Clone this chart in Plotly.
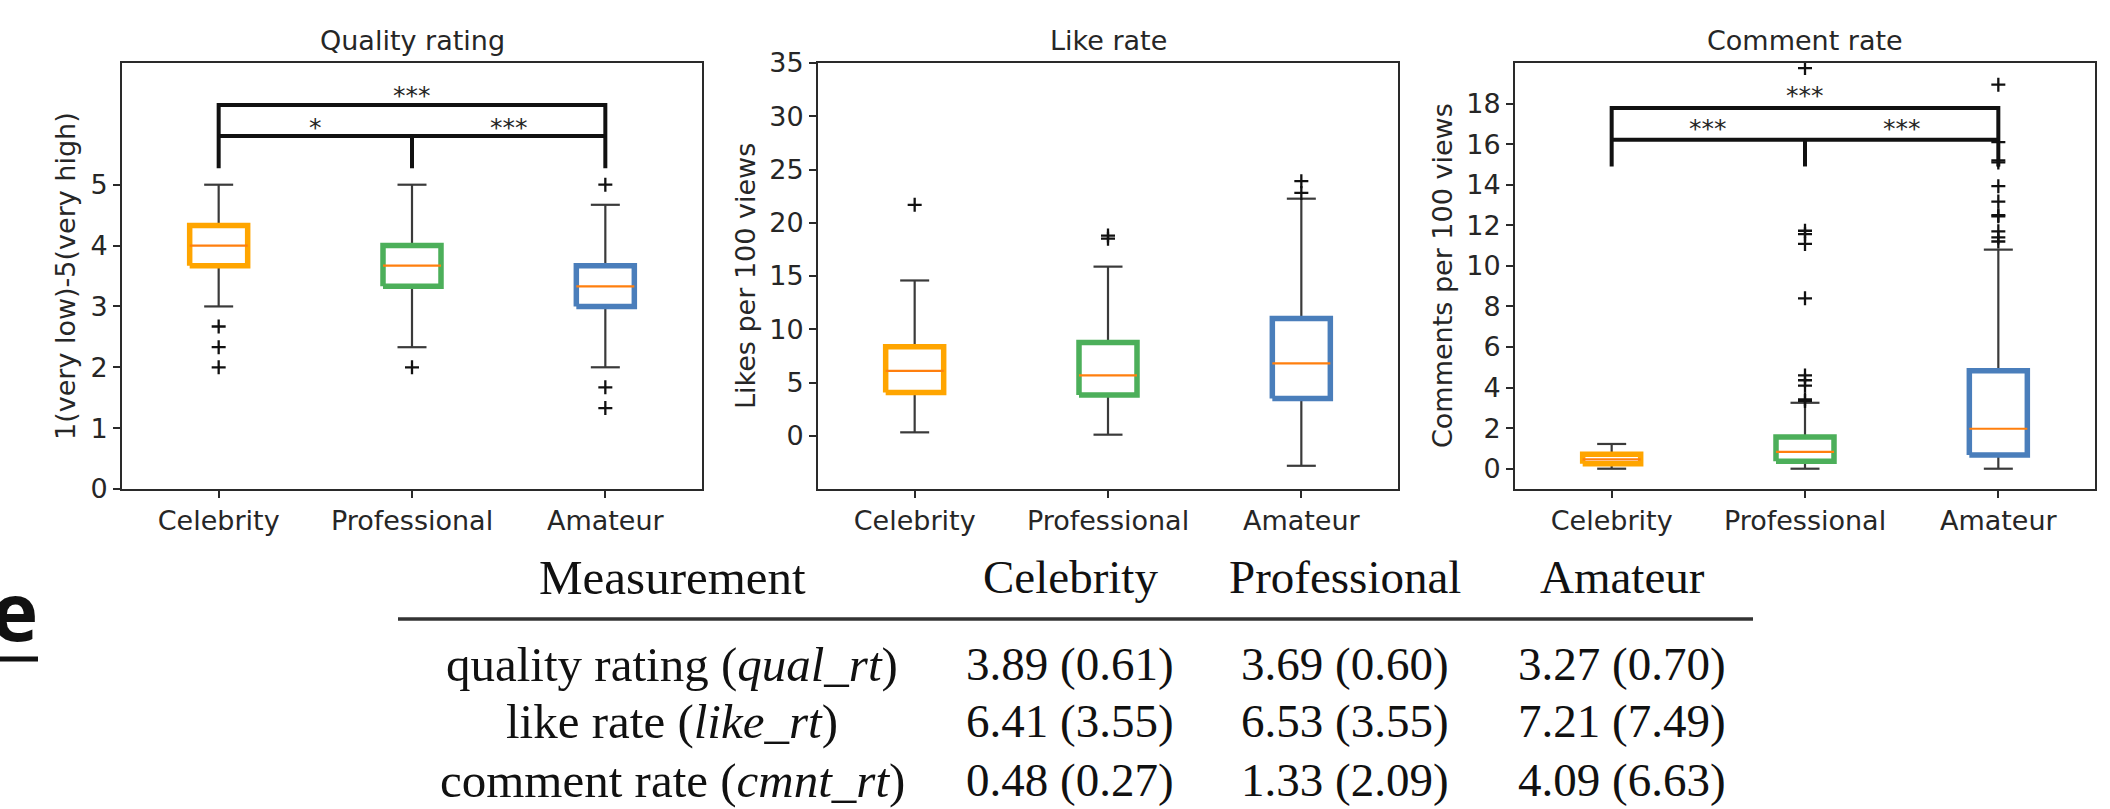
import plotly.graph_objects as go

# ---------------- data ----------------
categories = ["Celebrity", "Professional", "Amateur"]
positions = [1, 2, 3]
box_colors = ["#FFA500", "#4CAF5A", "#4A7EBB"]

panel_titles = ["Quality rating", "Like rate", "Comment rate"]
y_titles = ["1(very low)-5(very high)", "Likes per 100 views", "Comments per 100 views"]

# quality rating
qual_q1 = [3.67, 3.33, 3.00]
qual_med = [4.00, 3.67, 3.33]
qual_q3 = [4.33, 4.00, 3.67]
qual_lo = [3.00, 2.33, 2.00]
qual_hi = [5.00, 5.00, 4.67]
qual_fliers = [[2.67, 2.33, 2.00], [2.00], [5.00, 1.67, 1.33]]

# like rate
like_q1 = [4.05, 3.82, 3.50]
like_med = [6.09, 5.67, 6.80]
like_q3 = [8.36, 8.75, 11.02]
like_lo = [0.32, 0.10, -2.82]
like_hi = [14.58, 15.88, 22.26]
like_fliers = [[21.68], [18.50, 18.80], [22.80, 23.90]]

# comment rate
cmnt_q1 = [0.24, 0.37, 0.68]
cmnt_med = [0.46, 0.83, 1.97]
cmnt_q3 = [0.71, 1.56, 4.83]
cmnt_lo = [0.00, 0.00, 0.00]
cmnt_hi = [1.22, 3.25, 10.80]
cmnt_fliers = [[],
               [3.34, 3.42, 4.10, 4.36, 4.60, 8.40, 11.08, 11.56, 11.73, 19.75],
               [11.20, 11.40, 11.70, 12.44, 12.50, 13.17, 13.93, 15.10, 15.20, 16.10, 18.93]]

# y axes
y_ranges = [[0, 7], [-5, 35], [-1, 20]]
y_ticks = [[0, 1, 2, 3, 4, 5], [0, 5, 10, 15, 20, 25, 30, 35], [0, 2, 4, 6, 8, 10, 12, 14, 16, 18]]

# significance brackets (panel 1 and 3)
sig_qual = dict(leg=5.27, low=5.80, high=6.31, pair_y=6.03, top_y=6.54, labels=["*", "***", "***"])
sig_cmnt = dict(leg=14.90, low=16.22, high=17.78, pair_y=17.03, top_y=18.64, labels=["***", "***", "***"])

# table
table_header = ["Measurement", "Celebrity", "Professional", "Amateur"]
row_labels = ["quality rating (<i>qual_rt</i>)", "like rate (<i>like_rt</i>)", "comment rate (<i>cmnt_rt</i>)"]
row_means = [[3.89, 3.69, 3.27], [6.41, 6.53, 7.21], [0.48, 1.33, 4.09]]
row_sds = [[0.61, 0.60, 0.70], [3.55, 3.55, 7.49], [0.27, 2.09, 6.63]]

# ---------------- layout helpers ----------------
W, H = 2110, 809
def px(x):
    return x / W
def py(y):
    return 1 - y / H

panel_x = [(122, 702), (818, 1398), (1515, 2095)]
panel_top, panel_bot = 63, 489
ylab_x = [66, 746, 1443]

TXT = "#262626"
SANS = "DejaVu Sans"
SERIF = "Liberation Serif"
BOX_HALF = 0.15
CAP_HALF = 0.075

fig = go.Figure()

stats = [
    (qual_q1, qual_med, qual_q3, qual_lo, qual_hi, qual_fliers),
    (like_q1, like_med, like_q3, like_lo, like_hi, like_fliers),
    (cmnt_q1, cmnt_med, cmnt_q3, cmnt_lo, cmnt_hi, cmnt_fliers),
]

annotations = []
for k, (q1s, meds, q3s, los, his, fls) in enumerate(stats):
    xa = "x" if k == 0 else f"x{k+1}"
    ya = "y" if k == 0 else f"y{k+1}"
    for i, p in enumerate(positions):
        # whiskers + caps
        fig.add_trace(go.Scatter(
            x=[p, p, None, p, p, None, p - CAP_HALF, p + CAP_HALF, None, p - CAP_HALF, p + CAP_HALF],
            y=[q1s[i], los[i], None, q3s[i], his[i], None, los[i], los[i], None, his[i], his[i]],
            mode="lines", line=dict(color="#3a3a3a", width=2.2),
            xaxis=xa, yaxis=ya, hoverinfo="skip"))
        # box
        fig.add_trace(go.Scatter(
            x=[p - BOX_HALF, p + BOX_HALF, p + BOX_HALF, p - BOX_HALF, p - BOX_HALF],
            y=[q1s[i], q1s[i], q3s[i], q3s[i], q1s[i]],
            mode="lines", line=dict(color=box_colors[i], width=5.5),
            fill="toself", fillcolor="white",
            xaxis=xa, yaxis=ya, hoverinfo="skip"))
        # median
        fig.add_trace(go.Scatter(
            x=[p - BOX_HALF, p + BOX_HALF], y=[meds[i], meds[i]],
            mode="lines", line=dict(color="#FF7F0E", width=2.2),
            xaxis=xa, yaxis=ya, hoverinfo="skip"))
        # fliers
        if fls[i]:
            fig.add_trace(go.Scatter(
                x=[p] * len(fls[i]), y=fls[i], mode="markers",
                marker=dict(symbol="cross-thin", size=10, line=dict(color="#111111", width=2.3)),
                xaxis=xa, yaxis=ya, hoverinfo="skip"))

# significance brackets
for k, sig in [(0, sig_qual), (2, sig_cmnt)]:
    xa = "x" if k == 0 else f"x{k+1}"
    ya = "y" if k == 0 else f"y{k+1}"
    fig.add_trace(go.Scatter(
        x=[1, 1, 3, 3, None, 1, 3, None, 2, 2],
        y=[sig["leg"], sig["high"], sig["high"], sig["leg"], None, sig["low"], sig["low"], None, sig["leg"], sig["low"]],
        mode="lines", line=dict(color="#111111", width=4),
        xaxis=xa, yaxis=ya, hoverinfo="skip"))
    for xv, yv, lab in [(1.5, sig["pair_y"], sig["labels"][0]), (2.5, sig["pair_y"], sig["labels"][1]),
                        (2.0, sig["top_y"], sig["labels"][2])]:
        annotations.append(dict(x=xv, y=yv, xref=xa, yref=ya, text=lab, showarrow=False,
                                font=dict(family=SANS, size=25, color=TXT),
                                xanchor="center", yanchor="middle", yshift=-5))

# axes
for k in range(3):
    xn = "xaxis" if k == 0 else f"xaxis{k+1}"
    yn = "yaxis" if k == 0 else f"yaxis{k+1}"
    ya = "y" if k == 0 else f"y{k+1}"
    xa = "x" if k == 0 else f"x{k+1}"
    x0, x1 = panel_x[k]
    common = dict(showline=True, mirror=True, linecolor="#2a2a2a", linewidth=2, showgrid=False,
                  zeroline=False, ticks="outside", ticklen=7, tickwidth=2, tickcolor="#2a2a2a",
                  automargin=False, tickfont=dict(family=SANS, size=27, color=TXT))
    fig.update_layout({
        xn: dict(domain=[px(x0), px(x1)], range=[0.5, 3.5], tickvals=positions, ticktext=categories,
                 anchor=ya, **common),
        yn: dict(domain=[py(panel_bot), py(panel_top)], range=y_ranges[k], tickvals=y_ticks[k],
                 anchor=xa, **common),
    })
    annotations.append(dict(x=px((x0 + x1) / 2), y=py(41), xref="paper", yref="paper",
                            text=panel_titles[k], showarrow=False,
                            font=dict(family=SANS, size=27, color=TXT), xanchor="center", yanchor="middle"))
    annotations.append(dict(x=px(ylab_x[k]), y=py((panel_top + panel_bot) / 2), xref="paper", yref="paper",
                            text=y_titles[k], showarrow=False, textangle=-90,
                            font=dict(family=SANS, size=27, color=TXT), xanchor="center", yanchor="middle"))

# table
col_x = [672, 1070, 1345, 1622]
header_y = 577
row_y = [664, 721, 780]
for j, h in enumerate(table_header):
    annotations.append(dict(x=px(col_x[j]), y=py(header_y), xref="paper", yref="paper", text=h,
                            showarrow=False, font=dict(family=SERIF, size=49 if j == 0 else 47, color="#111111"),
                            xanchor="center", yanchor="middle"))
for r, lab in enumerate(row_labels):
    annotations.append(dict(x=px(col_x[0]), y=py(row_y[r]), xref="paper", yref="paper", text=lab,
                            showarrow=False, font=dict(family=SERIF, size=49, color="#111111"),
                            xanchor="center", yanchor="middle"))
    for c in range(3):
        annotations.append(dict(x=px(col_x[c + 1]), y=py(row_y[r]), xref="paper", yref="paper",
                                text=f"{row_means[r][c]:.2f} ({row_sds[r][c]:.2f})", showarrow=False,
                                font=dict(family=SERIF, size=47, color="#111111"),
                                xanchor="center", yanchor="middle"))

# stray cropped heading letter on the left edge
annotations.append(dict(x=px(40), y=py(609), xref="paper", yref="paper", text="<b>e</b>", showarrow=False,
                        font=dict(family="Open Sans", size=80, color="#111111"), xanchor="right", yanchor="middle"))

shapes = [
    dict(type="line", xref="paper", yref="paper", x0=px(398), x1=px(1753), y0=py(619), y1=py(619),
         line=dict(color="#333333", width=3.5)),
    dict(type="line", xref="paper", yref="paper", x0=px(0), x1=px(38), y0=py(659), y1=py(659),
         line=dict(color="#111111", width=5)),
]

fig.update_layout(width=W, height=H, margin=dict(l=0, r=0, t=0, b=0, autoexpand=False), showlegend=False,
                  paper_bgcolor="white", plot_bgcolor="white", annotations=annotations, shapes=shapes)

fig.write_html("out.html")
